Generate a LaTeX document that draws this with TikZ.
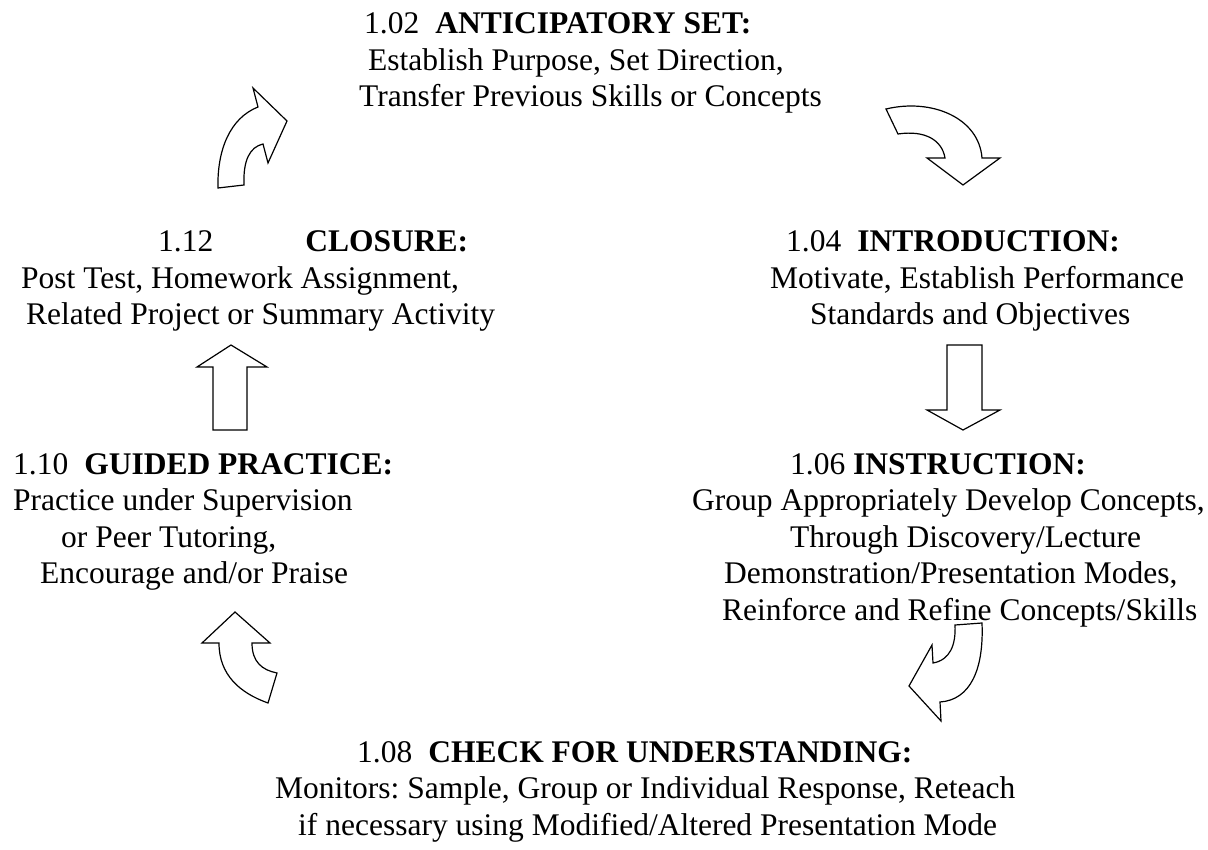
\documentclass[tikz,border=0pt]{standalone}
\usepackage{fontspec}
\setmainfont{Liberation Serif}
\frenchspacing
\begin{document}
\begin{tikzpicture}[x=1pt,y=-1pt,
  txt/.style={anchor=base west,inner sep=0pt,font=\fontsize{31.5}{36.5}\selectfont},
  arr/.style={draw=black,line width=1.2pt,line join=miter,fill=white}]
\useasboundingbox (0,0) rectangle (1208,850);
% top block
\node[txt] (a1) at (364,34) {1.02\hspace{16pt}\textbf{ANTICIPATORY SET:}};
\node[txt] (a2) at (368,70.5) {Establish Purpose, Set Direction,};
\node[txt] (a3) at (359,107) {Transfer Previous Skills or Concepts};
% closure
\node[txt] (c1) at (158,252) {1.12\hspace{92pt}\textbf{CLOSURE:}};
\node[txt] (c2) at (21,288.5) {Post Test, Homework Assignment,};
\node[txt] (c3) at (26,325) {Related Project or Summary Activity};
% introduction
\node[txt] (i1) at (786,252) {1.04\hspace{16pt}\textbf{INTRODUCTION:}};
\node[txt] (i2) at (770,288.5) {Motivate, Establish Performance};
\node[txt] (i3) at (810,325) {Standards and Objectives};
% guided practice
\node[txt] (g1) at (13,474) {1.10\hspace{16pt}\textbf{GUIDED PRACTICE:}};
\node[txt] (g2) at (13,510.5) {Practice under Supervision};
\node[txt] (g3) at (61,547) {or Peer Tutoring,};
\node[txt] (g4) at (40,583.5) {Encourage and/or Praise};
% instruction
\node[txt] (n1) at (790,474) {1.06 \textbf{INSTRUCTION:}};
\node[txt] (n2) at (692,510.5) {Group Appropriately Develop Concepts,};
\node[txt] (n3) at (790,547) {Through Discovery/Lecture};
\node[txt] (n4) at (724,583.5) {Demonstration/Presentation Modes,};
\node[txt] (n5) at (722,620) {Reinforce and Refine Concepts/Skills};
% check
\node[txt] (k1) at (357,762) {1.08\hspace{16pt}\textbf{CHECK FOR UNDERSTANDING:}};
\node[txt] (k2) at (275,798.5) {Monitors: Sample, Group or Individual Response, Reteach};
\node[txt] (k3) at (298,835) {if necessary using Modified/Altered Presentation Mode};
% arrows
\draw[arr] (218,188) .. controls (217,150) and (230,118) .. (258,107) -- (253,88) -- (287,121) -- (268,163) -- (263,144) .. controls (250,147) and (243,160) .. (244,185) -- cycle;
\draw[arr] (886,109) .. controls (932,98) and (979,118) .. (982,158) -- (1000,158) -- (963,185) -- (927,158) -- (945,158) .. controls (942,140) and (925,130) .. (898,134) -- cycle;
\draw[arr] (947,345) -- (982,345) -- (982,410) -- (1000,410) -- (963,430) -- (927,410) -- (947,410) -- cycle;
\draw[arr] (982,623) .. controls (984,670) and (970,700) .. (940,702) -- (941,721) -- (909,686) -- (932,645) -- (933,663) .. controls (950,660) and (956,645) .. (955,625) -- cycle;
\draw[arr] (252,643) .. controls (252,662) and (262,670) .. (277,673) -- (268,703) .. controls (240,693) and (219,675) .. (219,643) -- (202,643) -- (235,612) -- (270,643) -- cycle;
\draw[arr] (213,430) -- (213,367) -- (197,367) -- (231,345) -- (267,367) -- (247,367) -- (247,430) -- cycle;
\end{tikzpicture}
\end{document}
